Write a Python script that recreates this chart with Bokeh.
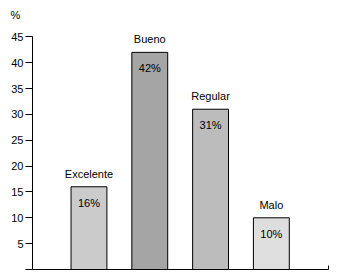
from bokeh.plotting import figure
from bokeh.models import FixedTicker, Range1d, ColumnDataSource, CustomJSTickFormatter
from bokeh.core.properties import value
from bokeh.embed import file_html
from bokeh.resources import INLINE

categories = ["Excelente", "Bueno", "Regular", "Malo"]
percent = [16, 42, 31, 10]
pct_labels = ["16%", "42%", "31%", "10%"]
colors = ["#cbcbcb", "#a5a5a5", "#bcbcbc", "#dedede"]
y_ticks = [0, 5, 10, 15, 20, 25, 30, 35, 40, 45]

xs = [i + 1 for i in range(len(categories))]
src = ColumnDataSource(dict(x=xs, top=percent, cat=categories, lab=pct_labels, color=colors))

FONT = "Liberation Sans"
x_start, x_end = 0.071, 4.94

p = figure(width=343, height=278, output_backend="svg", toolbar_location=None,
           x_range=Range1d(x_start, x_end), y_range=Range1d(0, 47),
           min_border_left=32, min_border_right=15, min_border_top=26, min_border_bottom=9,
           title="%")
p.outline_line_color = None
p.grid.visible = False
p.background_fill_color = "white"
p.border_fill_color = "white"

p.title.text_font = FONT
p.title.text_font_size = "11px"
p.title.text_font_style = "normal"
p.title.text_color = "black"
p.title.align = "left"
p.title.offset = -22
p.title.standoff = 11

p.vbar(x="x", top="top", bottom=0, width=0.59, fill_color="color", line_color="black",
       line_width=1, source=src)
p.text(x="x", y="top", text="cat", source=src, text_align="center", text_baseline="alphabetic",
       y_offset=-13, text_font=value(FONT), text_font_size="11px", text_color="black")
p.text(x="x", y="top", text="lab", source=src, text_align="center", text_baseline="alphabetic",
       y_offset=16, text_font=value(FONT), text_font_size="11px", text_color="black")

ya = p.yaxis[0]
ya.ticker = FixedTicker(ticks=y_ticks, minor_ticks=[])
ya.bounds = (0, 45)
ya.major_label_overrides = {0: ""}
ya.major_tick_out = 7
ya.major_tick_in = 0
ya.major_label_standoff = 2
ya.major_label_text_font = FONT
ya.major_label_text_font_size = "11px"
ya.major_label_text_color = "black"
ya.axis_line_color = "black"
ya.major_tick_line_color = "black"

xa = p.xaxis[0]
xa.ticker = FixedTicker(ticks=[x_end - 0.001], minor_ticks=[])
xa.formatter = CustomJSTickFormatter(code="return '';")
xa.major_tick_in = 4
xa.major_tick_out = 0
xa.major_label_standoff = 0
xa.axis_line_color = "black"
xa.major_tick_line_color = "black"

open("out.html", "w").write(file_html(p, INLINE))
